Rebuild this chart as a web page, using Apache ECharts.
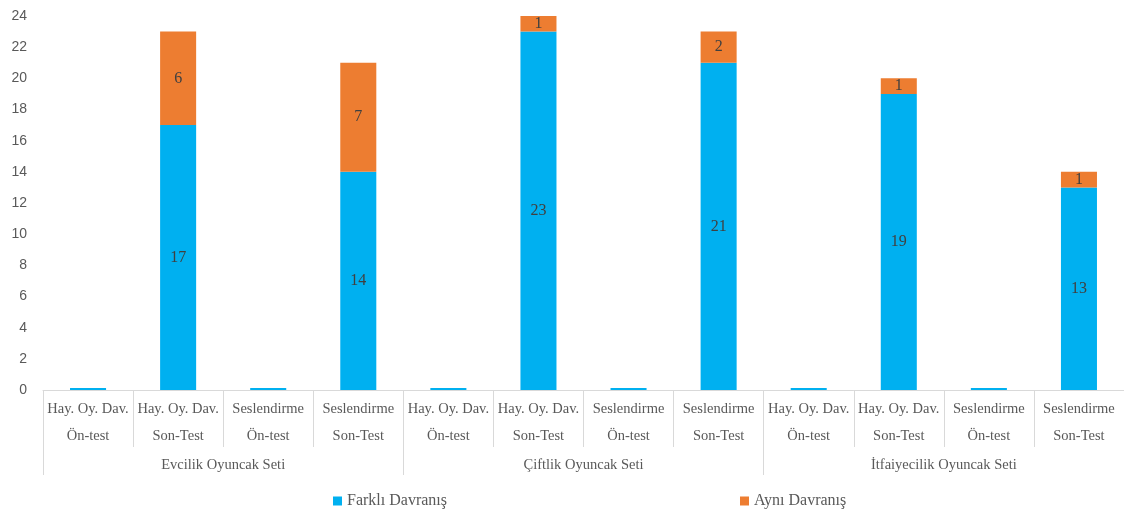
<!DOCTYPE html>
<html><head><meta charset="utf-8">
<script src="https://cdn.jsdelivr.net/npm/echarts@6/dist/echarts.min.js"></script>
<style>html,body{margin:0;padding:0;background:#fff}#c{width:1124px;height:511px}</style>
</head><body><div id="c"></div>
<script>
var categories = ["Hay. Oy. Dav.\nÖn-test","Hay. Oy. Dav.\nSon-Test","Seslendirme\nÖn-test","Seslendirme\nSon-Test",
                  "Hay. Oy. Dav.\nÖn-test","Hay. Oy. Dav.\nSon-Test","Seslendirme\nÖn-test","Seslendirme\nSon-Test",
                  "Hay. Oy. Dav.\nÖn-test","Hay. Oy. Dav.\nSon-Test","Seslendirme\nÖn-test","Seslendirme\nSon-Test"];
var groups = ["Evcilik Oyuncak Seti","Çiftlik Oyuncak Seti","İtfaiyecilik Oyuncak Seti"];
var farkli = [0.13,17,0.13,14,0.13,23,0.13,21,0.13,19,0.13,13];
var ayni   = [0,6,0,7,0,1,0,2,0,1,0,1];
var yTicks = {min:0,max:24,interval:2};

var serif = "Liberation Serif";
var grey = "#595959";
var chart = echarts.init(document.getElementById('c'));
var lbl = {show:true,position:'inside',color:'#404040',fontFamily:serif,fontSize:16,
  formatter:function(p){return p.value>=1?p.value:'';}};
chart.setOption({
  animation:false,
  grid:{left:43,right:0,top:16,bottom:121,containLabel:false},
  legend:[
    {data:['Farklı Davranış'],left:328,top:488,itemWidth:9,itemHeight:9,itemGap:5,icon:'rect',
     textStyle:{fontFamily:serif,fontSize:16,color:grey}},
    {data:['Aynı Davranış'],left:735,top:488,itemWidth:9,itemHeight:9,itemGap:5,icon:'rect',
     textStyle:{fontFamily:serif,fontSize:16,color:grey}}
  ],
  xAxis:[
    {type:'category',data:categories,position:'bottom',
     axisLine:{show:true,lineStyle:{color:'#D9D9D9',width:1}},
     axisTick:{show:true,interval:0,length:57,lineStyle:{color:'#D9D9D9'}},
     axisLabel:{interval:0,margin:6,lineHeight:27,fontFamily:serif,fontSize:14.5,color:grey}},
    {type:'category',data:groups,position:'bottom',
     axisLine:{show:false},
     axisTick:{show:true,interval:0,length:85,lineStyle:{color:'#D9D9D9'}},
     axisLabel:{interval:0,margin:67,lineHeight:16,fontFamily:serif,fontSize:14.5,color:grey}}
  ],
  yAxis:{type:'value',min:yTicks.min,max:yTicks.max,interval:yTicks.interval,
    splitLine:{show:false},axisLine:{show:false},axisTick:{show:false},
    axisLabel:{fontFamily:'Liberation Sans',fontSize:14,color:grey,margin:16}},
  series:[
    {name:'Farklı Davranış',type:'bar',stack:'s',data:farkli,barWidth:'40%',
     itemStyle:{color:'#00B0F0'},label:lbl},
    {name:'Aynı Davranış',type:'bar',stack:'s',data:ayni,barWidth:'40%',
     itemStyle:{color:'#ED7D31'},label:lbl}
  ]
});
</script></body></html>
